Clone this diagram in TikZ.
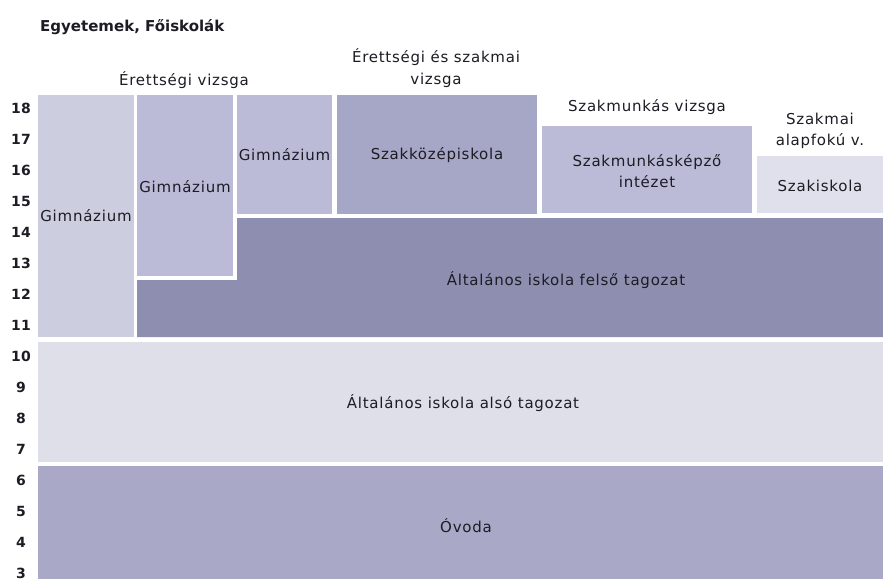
\documentclass[tikz,border=0pt]{standalone}
\usepackage{fontspec}
\setmainfont{DejaVu Sans}[LetterSpace=5]
\newfontfamily\numfont{DejaVu Sans}[LetterSpace=2]
\newfontfamily\headfont{DejaVu Sans}
\definecolor{ink}{HTML}{1C1C24}
\definecolor{gimA}{HTML}{CDCDE0}
\definecolor{gimB}{HTML}{BBBBD8}
\definecolor{szkoz}{HTML}{A6A6C6}
\definecolor{felso}{HTML}{8E8EB0}
\definecolor{also}{HTML}{DFDFEA}
\definecolor{ovoda}{HTML}{A9A9C7}
\definecolor{szkis}{HTML}{E0E0EC}
\begin{document}
\begin{tikzpicture}[x=1pt,y=-1pt,
  lbl/.style={inner sep=0pt, text=ink, font=\fontsize{15}{21.5}\selectfont, align=center},
  age/.style={inner sep=0pt, text=ink, font=\numfont\bfseries\fontsize{14}{16}\selectfont}]
  \useasboundingbox (0,0) rectangle (883,579);
  \fill[white] (0,0) rectangle (883,579);

  % school types, upper part
  \fill[gimA]  (38,95)   rectangle (134,337);
  \fill[gimB]  (137,95)  rectangle (233,276);
  \fill[gimB]  (237,95)  rectangle (332,214);
  \fill[szkoz] (337,95)  rectangle (537,214);
  \fill[gimB]  (542,126) rectangle (752,213);
  \fill[szkis] (757,156) rectangle (883,213);
  % upper primary school (L-shaped)
  \fill[felso] (137,337) -- (137,280) -- (237,280) -- (237,218) -- (883,218) -- (883,337) -- cycle;
  % lower primary school and kindergarten
  \fill[also]  (38,342)  rectangle (883,462);
  \fill[ovoda] (38,466)  rectangle (883,579);

  % labels inside the bands
  \node[lbl] (g1) at (86,216)   {Gimnázium};
  \node[lbl] (g2) at (185,187)  {Gimnázium};
  \node[lbl] (g3) at (284.5,155){Gimnázium};
  \node[lbl] (szk) at (437,155) {Szakközépiskola};
  \node[lbl] (szm) at (647,171) {Szakmunkásképző\\intézet};
  \node[lbl] (szi) at (820,186) {Szakiskola};
  \node[lbl] (fel) at (566,280) {Általános iskola felső tagozat};
  \node[lbl] (als) at (463,403) {Általános iskola alsó tagozat};
  \node[lbl] (ovd) at (466,526) {Óvoda};

  % exams above the bands
  \node[lbl, font=\headfont\bfseries\fontsize{15}{18}\selectfont, anchor=west] (egy) at (40,27) {Egyetemek, Főiskolák};
  \node[lbl] (ev)  at (184,80)  {Érettségi vizsga};
  \node[lbl] (esv) at (436,68)  {Érettségi és szakmai\\vizsga};
  \node[lbl] (smv) at (647,107) {Szakmunkás vizsga};
  \node[lbl] (sav) at (820,131) {Szakmai\\alapfokú v.};

  % age axis
  \foreach \a in {3,...,18}
    \node[age] (age\a) at (21,{108+(18-\a)*31}) {\a};
\end{tikzpicture}
\end{document}
